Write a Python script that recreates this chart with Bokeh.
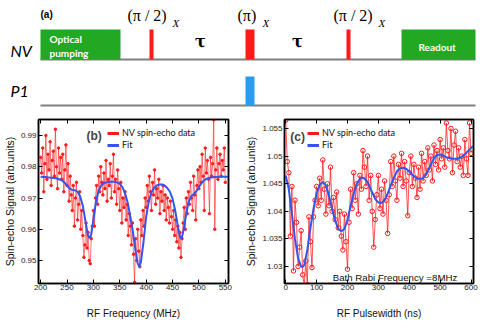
from bokeh.plotting import figure
from bokeh.layouts import column, row
from bokeh.models import (Range1d, FixedTicker, LinearAxis, Label, Legend,
                          LegendItem, CustomJSTickFormatter)
from bokeh.embed import file_html
from bokeh.resources import INLINE
from bokeh.core.properties import value

# ---------------- data ----------------
# panel (a): pulse sequence (schematic units)
nv_blocks_left = [40, 401]
nv_blocks_right = [120, 475]
nv_pulse_left = [149, 245, 346]
nv_pulse_right = [153, 254, 350]
p1_pulse_left = [245]
p1_pulse_right = [254]

# panel (b): spin-echo vs RF frequency
b_freq = list(range(200, 551, 2))
b_sig = [
    0.983, 0.978, 0.986, 0.972, 0.981, 0.990, 0.976, 0.984, 0.979, 0.988,
    0.974, 0.982, 0.985, 0.977, 0.992, 0.980, 0.973, 0.986, 0.978, 0.983,
    0.976, 0.984, 0.972, 0.979, 0.987, 0.974, 0.981, 0.969, 0.977, 0.971,
    0.966, 0.974, 0.961, 0.970, 0.975, 0.963, 0.968, 0.972, 0.960, 0.966,
    0.958, 0.951, 0.955, 0.962, 0.954, 0.959, 0.950, 0.949, 0.957, 0.961,
    0.966, 0.961, 0.970, 0.974, 0.968, 0.977, 0.972, 0.980, 0.975, 0.971,
    0.978, 0.973, 0.982, 0.969, 0.976, 0.974, 0.981, 0.970, 0.977, 0.984,
    0.972, 0.976, 0.968, 0.979, 0.973, 0.966, 0.975, 0.962, 0.970, 0.967,
    0.972, 0.963, 0.968, 0.958, 0.965, 0.961, 0.955, 0.962, 0.952, 0.943,
    0.957, 0.950, 0.960, 0.953, 0.948, 0.963, 0.958, 0.966, 0.961, 0.970,
    0.967, 0.974, 0.969, 0.977, 0.972, 0.966, 0.975, 0.971, 0.979, 0.968,
    0.973, 0.970, 0.976, 0.965, 0.972, 0.969, 0.974, 0.966, 0.971, 0.963,
    0.970, 0.967, 0.962, 0.969, 0.964, 0.960, 0.966, 0.958, 0.963, 0.956,
    0.961, 0.954, 0.959, 0.951, 0.957, 0.962, 0.967, 0.960, 0.970, 0.965,
    0.972, 0.968, 0.975, 0.970, 0.966, 0.977, 0.971, 0.963, 0.974, 0.979,
    0.973, 0.980, 0.975, 0.984, 0.977, 0.966, 0.986, 0.978, 0.982, 0.976,
    0.965, 0.983, 0.977, 0.981, 0.995, 0.960, 0.979, 0.986, 0.976, 0.981,
    0.984, 0.977, 0.982, 0.979, 0.986, 0.975,
]
b_fit_freq = [200, 205, 210, 215, 220, 225, 230, 235, 240, 245, 250, 255, 260,
              265, 270, 275, 280, 285, 290, 293, 296, 300, 305, 310, 315, 320,
              330, 340, 345, 350, 355, 360, 365, 370, 375, 380, 384, 387, 390,
              395, 400, 405, 410, 415, 420, 425, 430, 435, 440, 445, 450, 455,
              460, 464, 467, 470, 475, 480, 485, 490, 495, 500, 505, 510, 515,
              520, 530, 540, 550, 556]
b_fit = [0.9768, 0.9767, 0.9767, 0.9766, 0.9765, 0.9764, 0.9763, 0.9760,
         0.9757, 0.9750, 0.9740, 0.9730, 0.9726, 0.9725, 0.9720, 0.9705,
         0.9675, 0.9625, 0.9578, 0.9572, 0.9585, 0.9630, 0.9690, 0.9725,
         0.9740, 0.9748, 0.9752, 0.9752, 0.9750, 0.9745, 0.9735, 0.9715,
         0.9685, 0.9640, 0.9590, 0.9530, 0.9490, 0.9480, 0.9495, 0.9560,
         0.9640, 0.9690, 0.9718, 0.9733, 0.9740, 0.9743, 0.9743, 0.9740,
         0.9732, 0.9720, 0.9698, 0.9660, 0.9610, 0.9575, 0.9570, 0.9590,
         0.9640, 0.9685, 0.9705, 0.9712, 0.9722, 0.9735, 0.9748, 0.9757,
         0.9762, 0.9765, 0.9767, 0.9768, 0.9768, 0.9768]

# panel (c): spin-echo vs RF pulse width
c_time = list(range(0, 601, 5))
c_sig = [
    1.0565, 1.0490, 1.0470, 1.0355, 1.0445, 1.0292, 1.0420, 1.0380, 1.0300, 1.0335,
    1.0365, 1.0285, 1.0265, 1.0310, 1.0267, 1.0390, 1.0345, 1.0298, 1.0390, 1.0420,
    1.0445, 1.0410, 1.0460, 1.0420, 1.0493, 1.0440, 1.0395, 1.0450, 1.0410, 1.0480,
    1.0400, 1.0425, 1.0385, 1.0435, 1.0370, 1.0400, 1.0355, 1.0330, 1.0395, 1.0345,
    1.0295, 1.0380, 1.0440, 1.0405, 1.0470, 1.0420, 1.0450, 1.0395, 1.0465, 1.0440,
    1.0510, 1.0480, 1.0445, 1.0500, 1.0420, 1.0465, 1.0400, 1.0335, 1.0385, 1.0430,
    1.0465, 1.0405, 1.0440, 1.0395, 1.0455, 1.0420, 1.0360, 1.0430, 1.0490, 1.0445,
    1.0500, 1.0455, 1.0420, 1.0485, 1.0460, 1.0505, 1.0445, 1.0490, 1.0455, 1.0392,
    1.0470, 1.0500, 1.0445, 1.0485, 1.0460, 1.0425, 1.0480, 1.0440, 1.0505, 1.0455,
    1.0490, 1.0465, 1.0515, 1.0475, 1.0500, 1.0455, 1.0520, 1.0485, 1.0510, 1.0475,
    1.0530, 1.0495, 1.0515, 1.0480, 1.0560, 1.0510, 1.0495, 1.0550, 1.0470, 1.0520,
    1.0545, 1.0490, 1.0515, 1.0480, 1.0500, 1.0465, 1.0530, 1.0495, 1.0465, 1.0560, 1.0505,
]
c_fit_time = [0, 10, 20, 30, 40, 50, 55, 60, 70, 80, 90, 100, 110, 120, 130,
              140, 150, 160, 170, 180, 190, 200, 210, 220, 230, 240, 250, 260,
              270, 280, 290, 300, 310, 320, 330, 340, 350, 360, 370, 380, 390,
              400, 410, 420, 430, 440, 450, 460, 470, 480, 490, 500, 510, 520,
              530, 540, 550, 560, 570, 580, 590, 600, 606]
c_fit = [1.0465, 1.0440, 1.0395, 1.0350, 1.0315, 1.0300, 1.0299, 1.0303,
         1.0330, 1.0370, 1.0405, 1.0432, 1.0448, 1.0453, 1.0447, 1.0428,
         1.0405, 1.0383, 1.0368, 1.0364, 1.0368, 1.0385, 1.0410, 1.0432,
         1.0450, 1.0459, 1.0461, 1.0457, 1.0447, 1.0434, 1.0422, 1.0416,
         1.0415, 1.0420, 1.0432, 1.0447, 1.0461, 1.0472, 1.0478, 1.0479,
         1.0477, 1.0472, 1.0466, 1.0461, 1.0459, 1.0459, 1.0463, 1.0472,
         1.0485, 1.0496, 1.0502, 1.0503, 1.0501, 1.0498, 1.0496, 1.0495,
         1.0495, 1.0496, 1.0499, 1.0503, 1.0509, 1.0515, 1.0518]

b_xticks = [200, 250, 300, 350, 400, 450, 500, 550]
b_yticks = [0.95, 0.96, 0.97, 0.98, 0.99]
c_xticks = [0, 100, 200, 300, 400, 500, 600]
c_yticks = [1.03, 1.035, 1.04, 1.045, 1.05, 1.055]

RED = "#ff1a1a"
BLUE = "#3355ee"
GREEN = "#22a822"
GRAY = "#808080"
SANS = "Liberation Sans"

# ---------------- panel (a) ----------------
pa = figure(width=485, height=114, x_range=Range1d(0, 485), y_range=Range1d(114, 0),
            output_backend="svg", toolbar_location=None, min_border=0, title=None,
            x_axis_location=None, y_axis_location=None)
pa.grid.visible = False
pa.outline_line_color = None

pa.segment(x0=[40, 40], y0=[59, 105], x1=[475, 475], y1=[59, 105],
           line_color=GRAY, line_width=2)
pa.quad(left=nv_blocks_left, right=nv_blocks_right, top=[29, 29], bottom=[59, 59],
        fill_color=GREEN, line_color=None)
pa.quad(left=nv_pulse_left, right=nv_pulse_right, top=[29] * 3, bottom=[59] * 3,
        fill_color=RED, line_color=None)
pa.quad(left=p1_pulse_left, right=p1_pulse_right, top=[76], bottom=[105],
        fill_color="#2b9bf0", line_color=None)

pa.text(x=[49, 49], y=[38, 52], text=["Optical", "pumping"], text_color="white",
        text_font=value("Lato"), text_font_style="bold", text_font_size="10px",
        text_baseline="middle", text_align="left")
pa.text(x=[418], y=[46], text=["Readout"], text_color="white",
        text_font=value("Lato"), text_font_style="bold", text_font_size="10px",
        text_baseline="middle", text_align="left")
pa.text(x=[10, 10], y=[50, 90], text=["NV", "P1"], text_color="black",
        text_font=value("Lato"), text_font_style="italic", text_font_size="16px",
        text_baseline="middle", text_align="left")
pa.text(x=[40], y=[14], text=["(a)"], text_color="black",
        text_font=value(SANS), text_font_style="bold", text_font_size="10px",
        text_baseline="middle", text_align="left")
pa.text(x=[200, 297], y=[41, 41], text=["τ", "τ"], text_color="black",
        text_font=value("DejaVu Serif"), text_font_style="bold", text_font_size="16px",
        text_baseline="middle", text_align="center")
pa.text(x=[127, 237, 333], y=[15, 15, 15], text=["(π / 2)", "(π)", "(π / 2)"],
        text_color="black", text_font=value("Liberation Serif"),
        text_font_size="16px", text_baseline="middle", text_align="left")
pa.text(x=[172, 262, 378], y=[22, 22, 22], text=["X", "X", "X"],
        text_color="black", text_font=value("Liberation Serif"), text_font_style="italic",
        text_font_size="11px", text_baseline="middle", text_align="left")

blank = CustomJSTickFormatter(code="return '';")


def style_plot(p, xticks, yticks, xlabel, ylabel, fmt):
    p.grid.visible = False
    p.outline_line_color = "black"
    p.outline_line_width = 1.5
    for ax in p.xaxis:
        ax.ticker = FixedTicker(ticks=xticks)
        ax.axis_label = xlabel
    for ax in p.yaxis:
        ax.ticker = FixedTicker(ticks=yticks)
        ax.axis_label = ylabel
        ax.formatter = fmt
    for ax in p.axis:
        ax.major_tick_in = 4
        ax.major_tick_out = 0
        ax.minor_tick_line_color = None
        ax.axis_line_width = 1.5
        ax.major_tick_line_width = 1
        ax.major_label_text_font = SANS
        ax.major_label_text_font_size = "8px"
        ax.major_label_text_color = "#222222"
        ax.major_label_standoff = 2
        ax.axis_label_text_font = SANS
        ax.axis_label_text_font_style = "normal"
        ax.axis_label_text_color = "#111111"
    p.xaxis.axis_label_text_font_size = "10px"
    p.yaxis.axis_label_text_font_size = "10.5px"
    p.yaxis.axis_label_standoff = 2
    p.xaxis.major_label_standoff = 1
    p.xaxis.axis_label_standoff = 15
    top = LinearAxis(ticker=FixedTicker(ticks=xticks), major_tick_in=4, major_tick_out=0,
                     minor_tick_line_color=None, formatter=blank,
                     major_label_text_font_size="0px",
                     major_label_standoff=0, axis_line_width=1.5)
    right = LinearAxis(ticker=FixedTicker(ticks=yticks), major_tick_in=4, major_tick_out=0,
                       minor_tick_line_color=None, formatter=blank,
                       major_label_text_font_size="0px",
                       major_label_standoff=0, axis_line_width=1.5)
    p.add_layout(top, "above")
    p.add_layout(right, "right")


def add_legend(p, loc):
    nan = float("nan")
    r1 = p.line([nan, nan], [nan, nan], line_color=RED, line_width=3)
    r2 = p.line([nan, nan], [nan, nan], line_color=BLUE, line_width=3)
    leg = Legend(items=[LegendItem(label="NV spin-echo data", renderers=[r1]),
                        LegendItem(label="Fit", renderers=[r2])],
                 location=loc, background_fill_alpha=0, border_line_color=None,
                 label_text_font="Lato", label_text_font_size="9px",
                 label_text_color="#111111", glyph_width=12, glyph_height=10,
                 label_height=11, label_standoff=3, spacing=1, padding=2, margin=0)
    p.add_layout(leg)


fmt = CustomJSTickFormatter(code="return String(parseFloat(tick.toFixed(4)));")

# ---------------- panel (b) ----------------
pb = figure(width=242, height=207, x_range=Range1d(196, 556),
            y_range=Range1d(0.94264, 0.99512), output_backend="svg",
            toolbar_location=None, title=None, min_border_left=34, min_border_right=14,
            min_border_top=5, min_border_bottom=38)
style_plot(pb, b_xticks, b_yticks, "RF Frequency (MHz)", "Spin-echo Signal (arb.units)", fmt)
pb.line(b_freq, b_sig, line_color=RED, line_width=1, line_alpha=0.6)
pb.scatter(b_freq, b_sig, size=2.5, fill_color=RED, line_color=RED)
pb.line(b_fit_freq, b_fit, line_color=BLUE, line_width=2)
pb.add_layout(Label(x=287, y=0.9897, text="(b)", text_font=SANS, text_font_style="bold",
                    text_font_size="12px", text_baseline="middle", text_align="left"))
add_legend(pb, (69, 133))

# ---------------- panel (c) ----------------
pc = figure(width=243, height=207, x_range=Range1d(-4, 608),
            y_range=Range1d(1.02692, 1.05663), output_backend="svg",
            toolbar_location=None, title=None, min_border_left=40, min_border_right=12,
            min_border_top=5, min_border_bottom=38)
style_plot(pc, c_xticks, c_yticks, "RF Pulsewidth (ns)", "Spin-echo Signal (arb.units)", fmt)
pc.line(c_time, c_sig, line_color=RED, line_width=1, line_alpha=0.75)
pc.scatter(c_time, c_sig, size=4.5, fill_color=None, line_color=RED, line_width=1)
pc.line(c_fit_time, c_fit, line_color=BLUE, line_width=2)
pc.add_layout(Label(x=15, y=1.05355, text="(c)", text_font=SANS, text_font_style="bold",
                    text_font_size="12px", text_baseline="middle", text_align="left"))
pc.add_layout(Label(x=152, y=1.028, text="Bath Rabi Frequency  =8MHz", text_font=SANS,
                    text_font_size="9.7px", text_baseline="middle", text_align="left",
                    text_color="#111111"))
add_legend(pc, (23, 133))

layout = column(pa, row(pb, pc))
open("out.html", "w").write(file_html(layout, INLINE))
